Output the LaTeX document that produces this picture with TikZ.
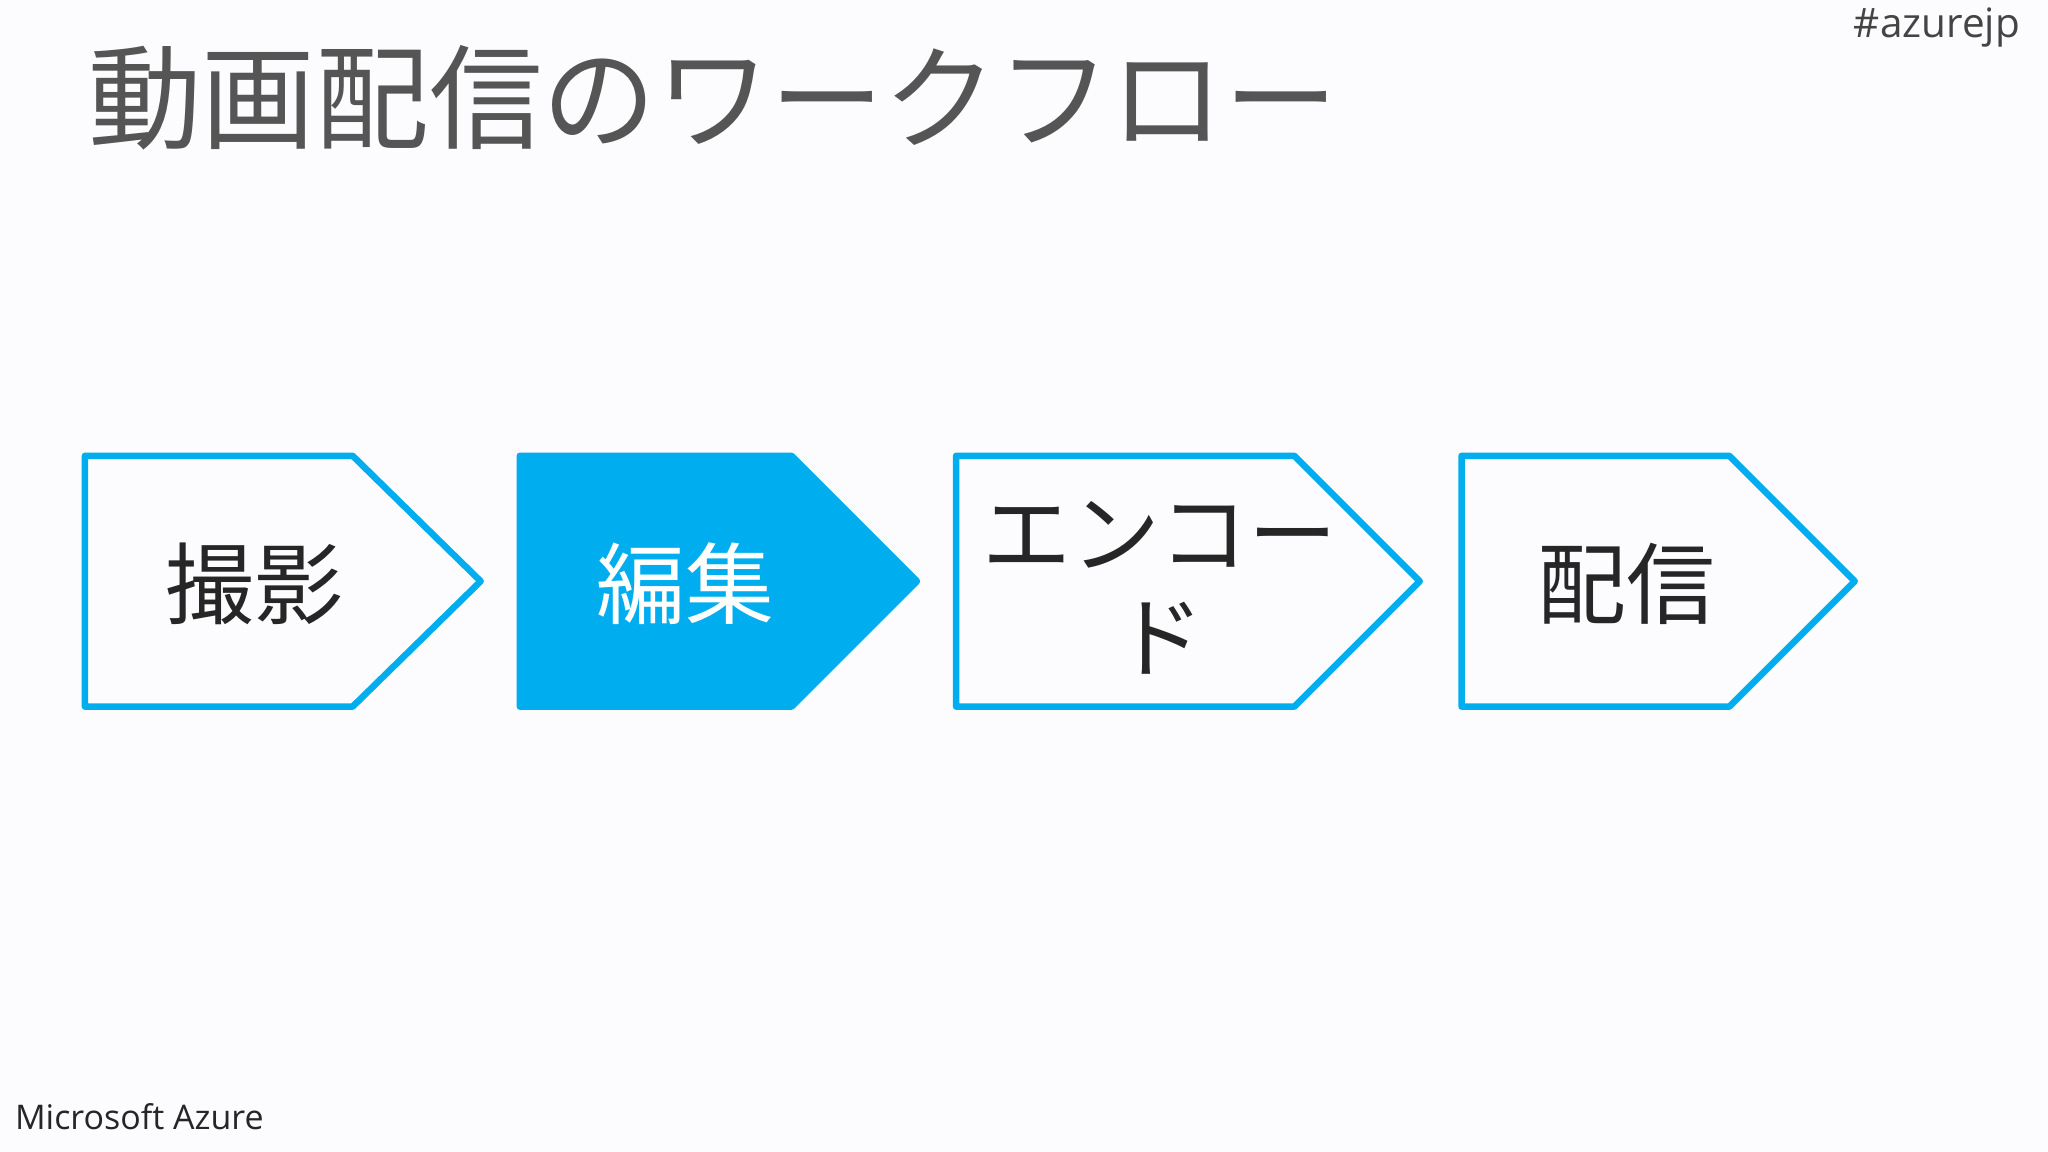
\documentclass[tikz,border=0pt]{standalone}
\usepackage{fontspec}
\newfontfamily\jp{Noto Sans CJK JP}
\setmainfont{Open Sans}
\definecolor{az}{HTML}{00AEEF}
\definecolor{ttl}{HTML}{555555}
\begin{document}
\begin{tikzpicture}[x=1pt,y=-1pt,
  arrowbox/.style={draw=az,line width=5pt,line join=round},
  lbl/.style={font=\jp\fontsize{68}{80}\selectfont,text=black!85,align=center}]
\fill[fill={rgb,255:red,252;green,252;blue,254}] (0,0) rectangle (1568,882);
\useasboundingbox (0,0) rectangle (1568,882);
\node[font=\jp\fontsize{87}{90}\selectfont,text=ttl,anchor=west] (title) at (64,75) {動画配信のワークフロー};
\node[font=\fontsize{31}{36}\selectfont,text=ttl!80!black,anchor=east] (tag) at (1550,21) {\#azurejp};
\node[font=\fontsize{26}{30}\selectfont,text=black!85,anchor=west] (ms) at (8,855) {Microsoft Azure};
\draw[arrowbox] (65,349) -- (270,349) -- (368,445) -- (270,541) -- (65,541) -- cycle;
\fill[az,draw=az,line width=5pt,line join=round] (398,349) -- (606,349) -- (702,445) -- (606,541) -- (398,541) -- cycle;
\draw[arrowbox] (732,349) -- (991,349) -- (1087,445) -- (991,541) -- (732,541) -- cycle;
\draw[arrowbox] (1119,349) -- (1324,349) -- (1420,445) -- (1324,541) -- (1119,541) -- cycle;
\node[lbl] (s1) at (195,447) {撮影};
\node[lbl,text=white] (s2) at (525,447) {編集};
\node[lbl] (s3) at (888,450) {エンコー\\ド};
\node[lbl] (s4) at (1245,447) {配信};
\end{tikzpicture}
\end{document}
